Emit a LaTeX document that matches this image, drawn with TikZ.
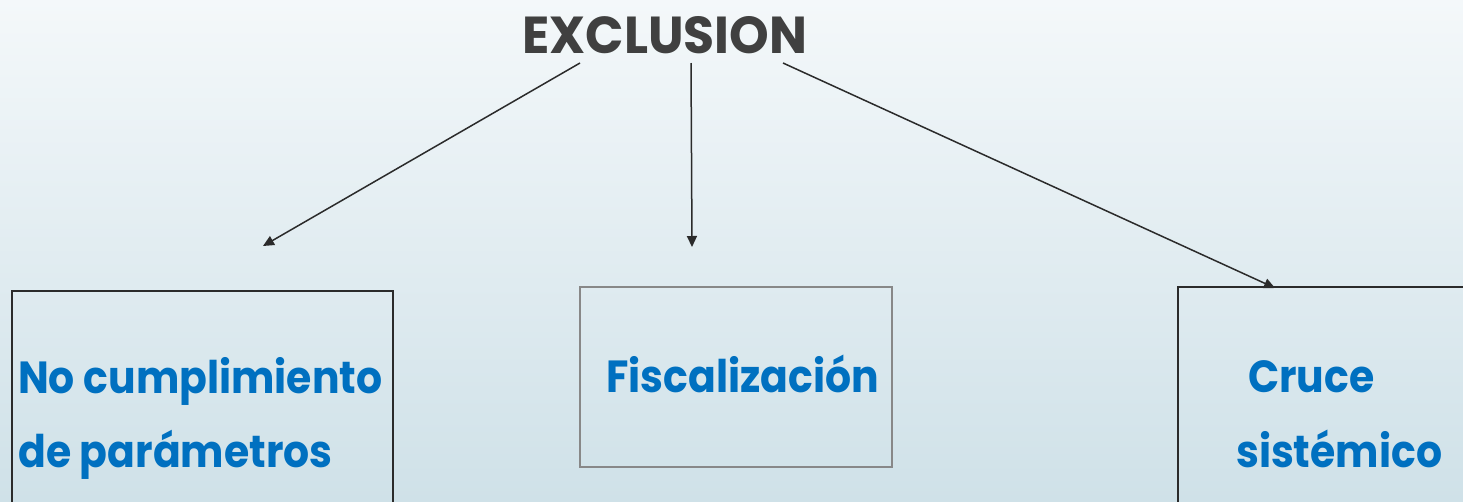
\documentclass[tikz,border=0pt]{standalone}
\usepackage{fontspec}
\setmainfont{Poppins}
\newfontfamily\lblfont{Poppins}[FakeStretch=0.91]
\newfontfamily\ttlfont{Poppins}[FakeStretch=0.97]
\usetikzlibrary{arrows.meta}
\definecolor{bgtop}{HTML}{F4F8FA}
\definecolor{bgbot}{HTML}{CFE1E8}
\definecolor{txtblue}{HTML}{0070C0}
\definecolor{titlegray}{HTML}{404040}
\definecolor{linedark}{HTML}{2B2B2B}
\definecolor{boxgray}{HTML}{888888}
\tikzset{
  conn/.style={draw=linedark, line width=1.5pt, -{Triangle[length=11pt,width=10pt]}},
  boxdark/.style={draw=linedark, line width=2pt, rectangle, inner sep=0pt},
  boxlight/.style={draw=boxgray, line width=2pt, rectangle, inner sep=0pt},
  lbl/.style={text=txtblue, font=\lblfont\bfseries\fontsize{45}{54}\selectfont, inner sep=0pt, anchor=base west},
  ttl/.style={text=titlegray, font=\ttlfont\bfseries\fontsize{52}{60}\selectfont, inner sep=0pt, anchor=base}
}
\begin{document}
\begin{tikzpicture}[x=1pt,y=-1pt]
\useasboundingbox (0,0) rectangle (1463,501);
\shade[top color=bgtop, bottom color=bgbot] (0,0) rectangle (1463,501);
\clip (0,0) rectangle (1463,501);
% title
\node[ttl] (title) at (665,53) {EXCLUSION};
% boxes
\node[boxdark, minimum width=381pt, minimum height=280pt, anchor=north west] (b1) at (11,290) {};
\node[boxlight, minimum width=312pt, minimum height=180pt, anchor=north west] (b2) at (579,286) {};
\node[boxdark, minimum width=320pt, minimum height=280pt, anchor=north west] (b3) at (1177,286) {};
% texts
\node[lbl] (t1a) at (18,393) {No cumplimiento};
\node[lbl] (t1b) at (18,467) {de parámetros};
\node[lbl] (t2) at (606,392) {Fiscalización};
\node[lbl] (t3a) at (1248,392) {Cruce};
\node[lbl] (t3b) at (1236,467) {sistémico};
% connector coordinates
\coordinate (s1) at (580,63);
\coordinate (e1) at (263,246);
\coordinate (s2) at (691,63);
\coordinate (e2) at (692,247);
\coordinate (s3) at (783,63);
\coordinate (e3) at (1275,288);
\draw[conn] (s1) -- (e1);
\draw[conn] (s2) -- (e2);
\draw[conn] (s3) -- (e3);
\end{tikzpicture}
\end{document}
